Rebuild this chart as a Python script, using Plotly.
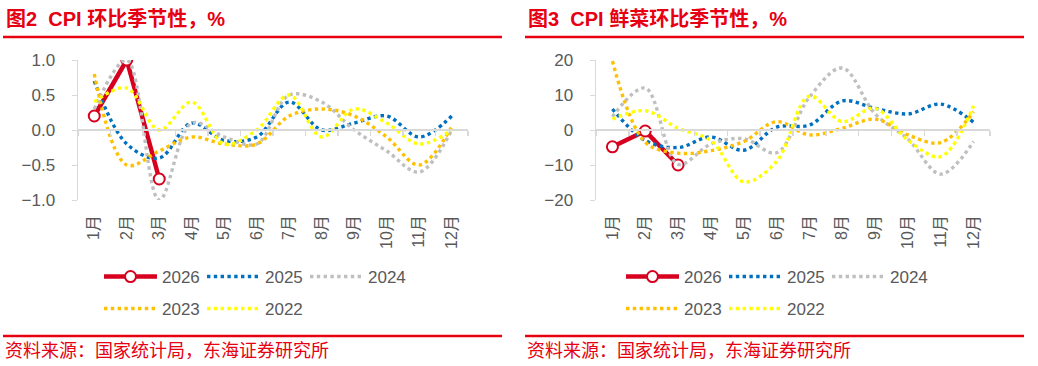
import plotly.graph_objects as go

W, H = 1038, 366

months = ['1月', '2月', '3月', '4月', '5月', '6月', '7月', '8月', '9月', '10月', '11月', '12月']
years = ['2026', '2025', '2024', '2023', '2022']

# 图2 CPI 环比季节性，%
cpi_2026 = [0.2, 1.0, -0.7]
cpi_2025 = [0.7, -0.2, -0.4, 0.1, -0.15, -0.1, 0.4, 0.0, 0.1, 0.2, -0.1, 0.2]
cpi_2024 = [0.3, 1.0, -1.0, 0.1, -0.1, -0.2, 0.5, 0.4, 0.0, -0.3, -0.6, 0.0]
cpi_2023 = [0.8, -0.5, -0.3, -0.1, -0.2, -0.2, 0.2, 0.3, 0.2, -0.1, -0.5, 0.05]
cpi_2022 = [0.4, 0.6, 0.0, 0.4, -0.2, 0.0, 0.5, -0.1, 0.3, 0.1, -0.2, 0.0]

# 图3 CPI 鲜菜环比季节性，%
veg_2026 = [-4.8, -0.3, -10.0]
veg_2025 = [6.0, -3.0, -5.0, -2.0, -5.8, 0.8, 1.4, 8.3, 6.2, 4.6, 7.4, 2.2]
veg_2024 = [3.8, 12.0, -9.8, -4.0, -2.5, -6.5, 9.4, 17.7, 4.6, -2.6, -12.6, -3.3]
veg_2023 = [19.7, -3.5, -6.6, -5.9, -3.3, 2.4, -1.4, 0.5, 3.1, -1.4, -3.6, 5.2]
veg_2022 = [3.1, 5.5, 0.5, -3.0, -14.8, -9.0, 9.7, 2.4, 6.2, -2.9, -7.6, 6.9]

titles = ['<b>图2\u00a0\u00a0CPI 环比季节性，%</b>', '<b>图3\u00a0\u00a0CPI 鲜菜环比季节性，%</b>']
source = '资料来源：国家统计局，东海证券研究所'

RED = '#E60012'
LINE_RED = '#D7001E'
colors = {'2025': '#0070C0', '2024': '#BFBFBF', '2023': '#FFC000', '2022': '#FFFF00'}
AX = '#D9D9D9'
TXT = '#595959'
FONT = 'Liberation Sans, Arial, Noto Sans CJK SC, sans-serif'

fig = go.Figure()

panels = [
    dict(data={'2026': cpi_2026, '2025': cpi_2025, '2024': cpi_2024, '2023': cpi_2023, '2022': cpi_2022},
         xa='x', ya='y', zx='x3', leg=('legend', 'legend2'), rng=[-1, 1], dtick=0.5, fmt='.1f',
         xdom=[78 / W, 468 / W], px0=0),
    dict(data={'2026': veg_2026, '2025': veg_2025, '2024': veg_2024, '2023': veg_2023, '2022': veg_2022},
         xa='x2', ya='y2', zx='x4', leg=('legend3', 'legend4'), rng=[-20, 20], dtick=10, fmt='d',
         xdom=[596 / W, 990 / W], px0=522),
]

ydom = [1 - 200 / H, 1 - 60 / H]

for p in panels:
    d = p['data']
    for yr in years:
        vals = d[yr]
        legname = p['leg'][0] if yr in ('2026', '2025', '2024') else p['leg'][1]
        if yr == '2026':
            fig.add_trace(go.Scatter(
                x=months[:len(vals)], y=vals, name=yr, mode='lines+markers',
                line=dict(color=LINE_RED, width=4.5),
                marker=dict(symbol='circle', size=11, color='white', line=dict(color=LINE_RED, width=2)),
                xaxis=p['xa'], yaxis=p['ya'], legend=legname))
        else:
            fig.add_trace(go.Scatter(
                x=months, y=vals, name=yr, mode='lines',
                line=dict(color=colors[yr], width=3.4, dash='3.4px,3.4px', shape='spline', smoothing=1),
                xaxis=p['xa'], yaxis=p['ya'], legend=legname))
    # dummy trace for the zero-crossing axis
    fig.add_trace(go.Scatter(x=months, y=[None] * 12, xaxis=p['zx'], yaxis=p['ya'],
                             showlegend=False, hoverinfo='skip', mode='lines'))

common_x = dict(type='category', categoryorder='array', categoryarray=months, range=[-0.5, 11.5],
                showgrid=False, zeroline=False, fixedrange=True, automargin=False)


def ybase(i):
    p = panels[i]
    return dict(domain=ydom, anchor=p['xa'], range=p['rng'], dtick=p['dtick'],
                tickformat=p['fmt'], showgrid=False, zeroline=False, showline=True,
                linecolor=AX, linewidth=1.5, ticks='outside', ticklen=5, tickcolor=AX,
                tickfont=dict(size=17, color=TXT, family=FONT), ticklabelstandoff=13,
                fixedrange=True, automargin=False)


def zbase(over):
    return dict(**common_x, overlaying=over, anchor='free', position=(ydom[0] + ydom[1]) / 2,
                showline=True, linecolor=AX, linewidth=2, ticks='outside', tickson='boundaries',
                ticklen=5, tickcolor=AX, tickwidth=1.5, showticklabels=False)


fig.update_layout(
    template='none',
    xaxis=dict(**common_x, domain=panels[0]['xdom'], anchor='y', showline=False, ticks='',
               tickangle=-90, tickfont=dict(size=16, color=TXT, family=FONT), ticklabelstandoff=11),
    xaxis2=dict(**common_x, domain=panels[1]['xdom'], anchor='y2', showline=False, ticks='',
                tickangle=-90, tickfont=dict(size=16, color=TXT, family=FONT), ticklabelstandoff=11),
    xaxis3=zbase('x'),
    xaxis4=zbase('x2'),
    yaxis=ybase(0),
    yaxis2=ybase(1),
    width=W, height=H, margin=dict(l=0, r=0, t=0, b=0, pad=0, autoexpand=False),
    paper_bgcolor='white', plot_bgcolor='white',
    font=dict(family=FONT, color=TXT),
    showlegend=True,
    hovermode=False,
)

leg_common = dict(orientation='h', xanchor='left', yanchor='middle', itemwidth=53,
                  entrywidth=35, font=dict(size=17, color=TXT, family=FONT),
                  bgcolor='rgba(0,0,0,0)', borderwidth=0, tracegroupgap=0,
                  itemclick=False, itemdoubleclick=False)
row1_y = 1 - 277 / H
row2_y = 1 - 309 / H
fig.update_layout(
    legend=dict(**leg_common, x=99 / W, y=row1_y),
    legend2=dict(**leg_common, x=99 / W, y=row2_y),
    legend3=dict(**leg_common, x=621 / W, y=row1_y),
    legend4=dict(**leg_common, x=621 / W, y=row2_y),
)

for p, t in zip(panels, titles):
    x0 = p['px0']
    fig.add_annotation(text=t, xref='paper', yref='paper', x=(x0 + 4) / W, y=1 - 19 / H,
                       xanchor='left', yanchor='middle', showarrow=False,
                       font=dict(size=20, color=RED, family=FONT))
    fig.add_annotation(text=source, xref='paper', yref='paper', x=(x0 + 3) / W, y=1 - 351 / H,
                       xanchor='left', yanchor='middle', showarrow=False,
                       font=dict(size=18, color=RED, family=FONT))
    for yy in (37, 336):
        fig.add_shape(type='line', xref='paper', yref='paper', x0=(x0 + 3) / W, x1=(x0 + 502) / W,
                      y0=1 - yy / H, y1=1 - yy / H, line=dict(color=RED, width=2.5))

fig.write_html('out.html',
               config={'displayModeBar': False, 'staticPlot': True},
               post_script="document.body.style.margin='0';document.body.style.padding='0';"
                           "document.documentElement.style.overflow='hidden';")
